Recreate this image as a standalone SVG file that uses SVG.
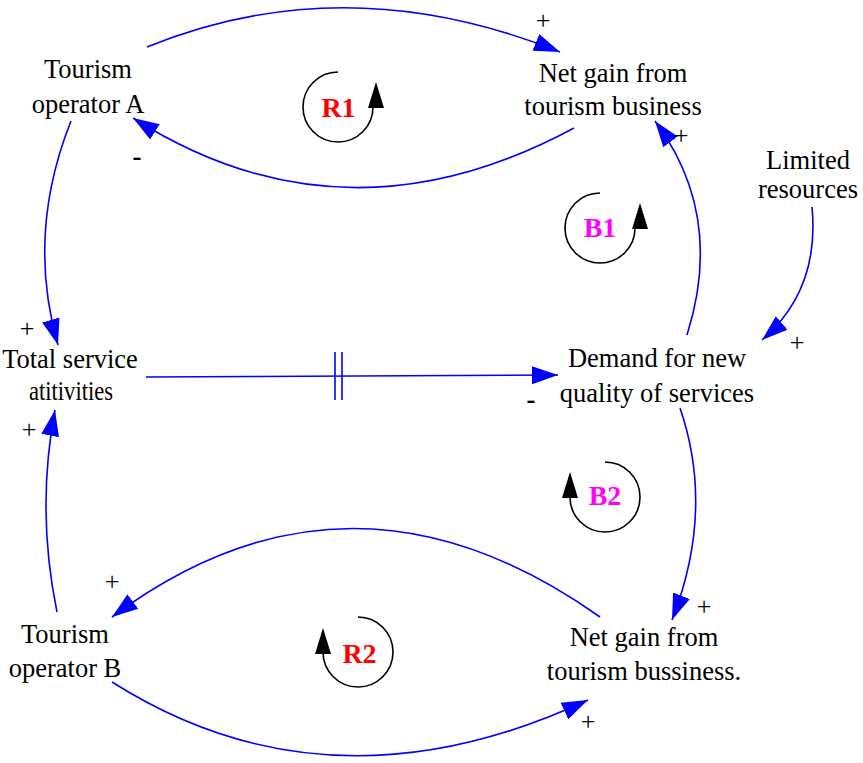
<svg xmlns="http://www.w3.org/2000/svg" width="863" height="763" viewBox="0 0 863 763">
<defs>
<style>
text{font-family:'Liberation Serif','Times New Roman',Times,serif}
.t{font-size:26.5px;fill:#000;text-anchor:middle}
.s{font-size:26px;fill:#000;text-anchor:middle}
.m{font-size:27px;font-weight:bold;fill:#000;text-anchor:middle}
.c{fill:none;stroke:#0000ff;stroke-width:1.6;marker-end:url(#ah)}
.d{stroke:#0000ff;stroke-width:1.6}
.lp{fill:none;stroke:#000;stroke-width:1.6}
.lr{font-size:28px;font-weight:bold;fill:#ff0000;text-anchor:middle}
.lb{font-size:28px;font-weight:bold;fill:#ff00ff;text-anchor:middle}
</style>
<marker id="ah" markerUnits="userSpaceOnUse" markerWidth="28" markerHeight="20" refX="26" refY="9" orient="auto" viewBox="0 0 28 18">
<path d="M0,0 L26,9 L0,18 Z" fill="#0000ff"/>
</marker>
</defs>
<g id="connectors">
<path class="c" d="M147,47 Q346,-34 560,52"/>
<path class="c" d="M574,128 Q344,252 133,118"/>
<path class="c" d="M71,121 Q26,234 58,345"/>
<path class="c" d="M57,612 Q36,510 55,410"/>
<path class="c" d="M146,377 L558,375"/>
<line class="d" x1="335" y1="352" x2="335" y2="400"/>
<line class="d" x1="342" y1="352" x2="342" y2="400"/>
<path class="c" d="M687,335 Q725,215 655,121"/>
<path class="c" d="M812,207 Q820,290 762,340"/>
<path class="c" d="M680,408 Q715,510 672,620"/>
<path class="c" d="M600,617 Q350,440 112,617"/>
<path class="c" d="M112,682 Q330,820 588,700"/>
</g>
<g id="polarities">
<text class="s" x="543" y="29">+</text>
<text class="m" x="137" y="165">-</text>
<text class="s" x="27" y="337">+</text>
<text class="s" x="29" y="438">+</text>
<text class="m" x="531" y="408">-</text>
<text class="s" x="681" y="144" font-size="24">+</text>
<text class="s" x="797" y="351">+</text>
<text class="s" x="704" y="615" font-size="24">+</text>
<text class="s" x="112" y="590">+</text>
<text class="s" x="588" y="730">+</text>
</g>
<g id="operatorA"><text class="t" x="88" y="78">Tourism</text><text class="t" x="88" y="113">operator A</text></g>
<g id="netgainTop"><text class="t" x="613" y="82">Net gain from</text><text class="t" x="613" y="115">tourism business</text></g>
<g id="limited"><text class="t" x="808" y="169" font-size="25.5">Limited</text><text class="t" x="808" y="198" font-size="25.5">resources</text></g>
<g id="totalService"><text class="t" x="70" y="368">Total service</text><text class="t" x="71" y="400" textLength="84" lengthAdjust="spacingAndGlyphs">atitivities</text></g>
<g id="demand"><text class="t" x="657" y="367">Demand for new</text><text class="t" x="657" y="402">quality of services</text></g>
<g id="operatorB"><text class="t" x="65" y="643">Tourism</text><text class="t" x="65" y="677">operator B</text></g>
<g id="netgainBottom"><text class="t" x="644" y="646">Net gain from</text><text class="t" x="644" y="680">tourism bussiness.</text></g>
<g id="loopR1">
<path class="lp" d="M338,72 A35,35 0 1 0 373,107"/>
<path d="M368,108 L384,108 L376,82 Z"/>
<text class="lr" x="338.5" y="117">R1</text>
</g>
<g id="loopB1">
<path class="lp" d="M600,193 A35,35 0 1 0 635,228"/>
<path d="M632,229 L648,229 L640,203 Z"/>
<text class="lb" x="600" y="237">B1</text>
</g>
<g id="loopB2">
<path class="lp" d="M605,462 A35,35 0 1 1 570,497"/>
<path d="M562,498 L578,498 L570,472 Z"/>
<text class="lb" x="605" y="505">B2</text>
</g>
<g id="loopR2">
<path class="lp" d="M358,617 A35,35 0 1 1 323,652"/>
<path d="M315,654 L331,654 L323,628 Z"/>
<text class="lr" x="359.5" y="663">R2</text>
</g>
</svg>
